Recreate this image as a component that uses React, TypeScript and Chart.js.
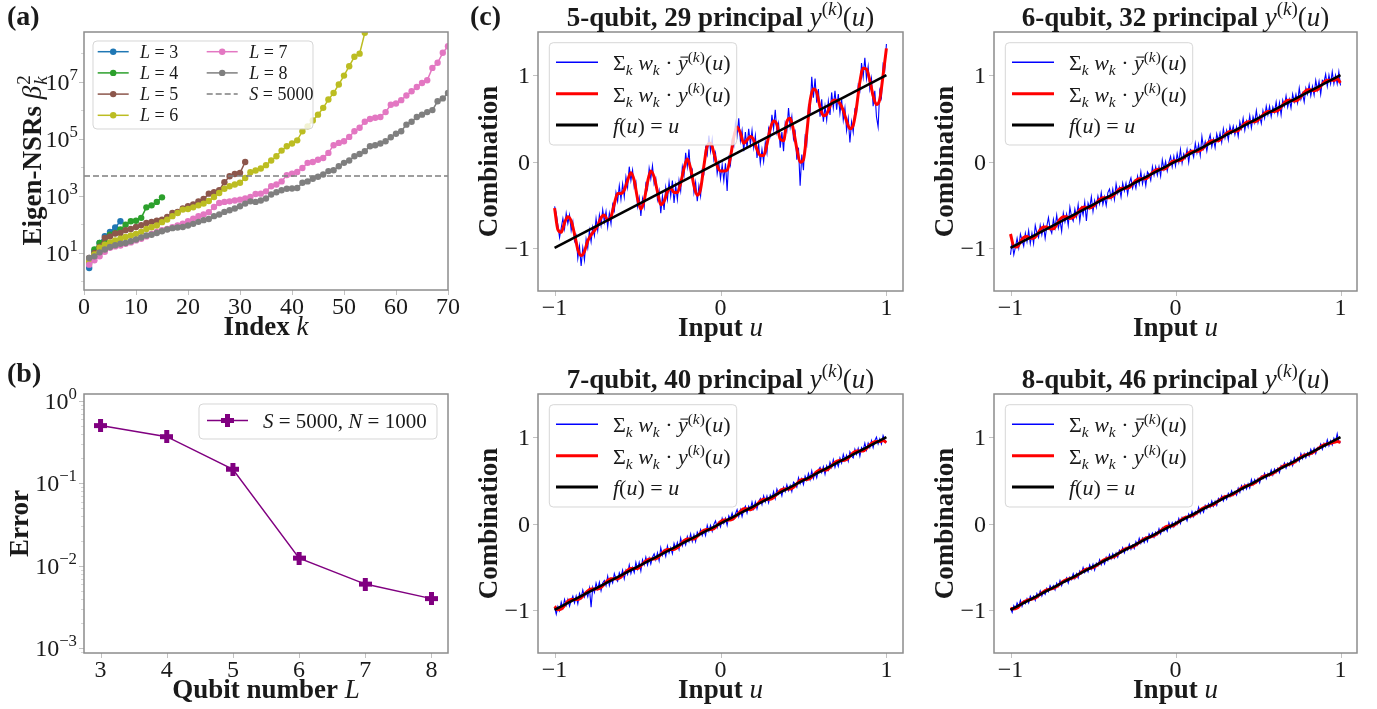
import React, { useEffect, useRef } from "react";
import { Chart, registerables } from "chart.js";
Chart.register(...registerables);

// ---------------- (a) eigen-NSR spectra: log10(beta_k^2) for k = 1..n ----------------
const nsrLogL3 = [0.47, 1.05, 1.35, 1.59, 1.74, 1.89, 2.11];
const nsrLogL4 = [0.65, 1.12, 1.35, 1.41, 1.64, 1.7, 1.82, 1.99, 2.11, 2.13, 2.23, 2.6, 2.67, 2.79, 2.95];
const nsrLogL5 = [0.82, 1.0, 1.21, 1.53, 1.58, 1.68, 1.7, 1.8, 1.84, 1.91, 1.97, 2.05, 2.09, 2.13, 2.17, 2.26, 2.4, 2.44, 2.56, 2.64, 2.7, 2.81, 2.89, 3.08, 3.13, 3.2, 3.48, 3.69, 3.77, 3.81, 4.19];
const nsrLogL6 = [0.71, 0.95, 1.18, 1.29, 1.37, 1.44, 1.5, 1.56, 1.61, 1.67, 1.74, 1.84, 1.9, 1.96, 2.08, 2.17, 2.29, 2.4, 2.52, 2.54, 2.6, 2.67, 2.73, 2.82, 2.96, 3.1, 3.25, 3.34, 3.4, 3.46, 3.63, 3.83, 3.89, 3.96, 4.08, 4.24, 4.39, 4.59, 4.74, 4.84, 4.95, 5.27, 5.44, 5.65, 5.85, 6.09, 6.38, 6.61, 6.91, 7.22, 7.55, 7.88, 7.99, 8.72, 9.4, 10.1];
const nsrLogL7 = [0.59, 0.74, 0.88, 1.04, 1.18, 1.23, 1.26, 1.32, 1.37, 1.44, 1.5, 1.58, 1.67, 1.74, 1.8, 1.84, 1.9, 1.96, 2.03, 2.11, 2.2, 2.29, 2.35, 2.43, 2.61, 2.75, 2.79, 2.81, 2.84, 2.87, 2.91, 2.96, 3.07, 3.08, 3.16, 3.34, 3.4, 3.51, 3.73, 3.78, 3.84, 3.98, 4.16, 4.19, 4.27, 4.33, 4.51, 4.78, 4.86, 4.92, 5.07, 5.27, 5.39, 5.6, 5.7, 5.74, 5.77, 5.94, 6.2, 6.24, 6.36, 6.52, 6.67, 6.82, 6.96, 7.06, 7.49, 7.67, 8.02, 8.25];
const nsrLogL8 = [0.82, 0.88, 1.02, 1.12, 1.21, 1.27, 1.32, 1.35, 1.41, 1.47, 1.54, 1.61, 1.64, 1.7, 1.76, 1.82, 1.87, 1.89, 1.91, 1.96, 2.02, 2.09, 2.15, 2.19, 2.29, 2.35, 2.44, 2.5, 2.56, 2.64, 2.73, 2.81, 2.79, 2.84, 2.91, 3.05, 3.13, 3.2, 3.25, 3.26, 3.28, 3.46, 3.51, 3.6, 3.67, 3.75, 3.87, 3.9, 4.04, 4.16, 4.24, 4.39, 4.47, 4.57, 4.74, 4.78, 4.84, 4.92, 5.06, 5.18, 5.27, 5.5, 5.6, 5.77, 5.85, 5.94, 6.01, 6.32, 6.42, 6.61];
const nsrSeriesL = ["3", "4", "5", "6", "7", "8"];
const shotsS = 5000;
const indexTicks = [0, 10, 20, 30, 40, 50, 60, 70];

// ---------------- (b) error vs qubit number ----------------
const qubitNumbers = [3, 4, 5, 6, 7, 8];
const errorValues = [0.5, 0.367, 0.148, 0.0124, 0.006, 0.004];

// ---------------- (c) combinations ----------------
const panelQubits = [5, 6, 7, 8];
const panelPrincipal = [29, 32, 40, 46];
const uDense = Array.from({ length: 201 }, (_, i) => -1 + i * 0.01);
const uCoarse = Array.from({ length: 101 }, (_, i) => -1 + i * 0.02);
const identityU = [-1, 1];

const blue5 = [
  -0.52, -0.6, -0.74, -0.88, -0.77, -0.66, -0.78, -0.6, -0.72, -0.62,
  -0.8, -0.7, -0.92, -0.86, -1.12, -0.98, -1.21, -1.0, -1.14, -0.9,
  -1.0, -0.8, -0.93, -0.76, -0.86, -0.66, -0.8, -0.62, -0.74, -0.56,
  -0.7, -0.58, -0.76, -0.6, -0.72, -0.5, -0.57, -0.36, -0.46, -0.28,
  -0.44, -0.26, -0.41, -0.18, -0.3, -0.06, -0.22, -0.1, -0.3, -0.24,
  -0.52, -0.42, -0.63, -0.43, -0.53, -0.26, -0.32, -0.08, -0.2, -0.05,
  -0.26, -0.2, -0.44, -0.34, -0.6, -0.4, -0.56, -0.3, -0.44, -0.24,
  -0.4, -0.22, -0.48, -0.28, -0.44, -0.22, -0.34, -0.06, -0.16, 0.1,
  -0.06, 0.14, -0.16, -0.1, -0.36, -0.24, -0.46, -0.28, -0.4, -0.1,
  -0.14, 0.16, 0.08, 0.3, 0.12, 0.26, 0.02, 0.1, -0.14, -0.02,
  -0.2, -0.04, -0.22, -0.02, -0.34, 0.04, -0.04, 0.24, 0.18, 0.44,
  0.3, 0.5, 0.24, 0.36, 0.12, 0.34, 0.16, 0.38, 0.2, 0.36,
  0.16, 0.3, 0.04, 0.2, -0.02, 0.14, 0.0, 0.22, 0.1, 0.38,
  0.3, 0.54, 0.38, 0.6, 0.34, 0.44, 0.16, 0.34, 0.12, 0.44,
  0.36, 0.62, 0.4, 0.52, 0.26, 0.34, 0.02, 0.16, -0.28, 0.08,
  -0.1, 0.28, 0.2, 0.64, 0.58, 0.98, 0.74, 0.96, 0.68, 0.84,
  0.52, 0.72, 0.46, 0.64, 0.48, 0.7, 0.54, 0.8, 0.62, 0.82,
  0.6, 0.78, 0.56, 0.72, 0.48, 0.62, 0.36, 0.5, 0.22, 0.46,
  0.34, 0.6, 0.56, 0.88, 0.82, 1.14, 0.98, 1.2, 0.96, 1.1,
  0.84, 0.96, 0.64, 0.82, 0.52, 0.4, 0.82, 0.74, 1.12, 1.06,
  1.36,
];
const red5 = [
  -0.54, -0.79, -0.82, -0.71, -0.64, -0.69, -0.84, -1.02, -1.09, -1.04,
  -0.92, -0.85, -0.8, -0.74, -0.65, -0.62, -0.68, -0.64, -0.49, -0.37,
  -0.37, -0.33, -0.22, -0.13, -0.22, -0.43, -0.55, -0.45, -0.24, -0.11,
  -0.18, -0.35, -0.5, -0.46, -0.35, -0.31, -0.36, -0.36, -0.25, -0.08,
  0.03, -0.08, -0.28, -0.39, -0.32, -0.05, 0.18, 0.21, 0.1, -0.05,
  -0.11, -0.11, -0.1, 0.05, 0.28, 0.4, 0.33, 0.21, 0.25, 0.29,
  0.25, 0.14, 0.07, 0.07, 0.2, 0.38, 0.47, 0.43, 0.26, 0.24,
  0.46, 0.5, 0.36, 0.15, -0.01, 0.02, 0.33, 0.7, 0.84, 0.8,
  0.63, 0.53, 0.55, 0.64, 0.71, 0.71, 0.67, 0.59, 0.47, 0.38,
  0.42, 0.63, 0.92, 1.08, 1.07, 0.94, 0.76, 0.66, 0.72, 1.0,
  1.31,
];
// residuals from f(u)=u for 6, 7, 8 qubits
const blue6Res = [
  -.08, .06, -.10, -.02, .07, -.05, .10, .02, -.06, .08,
  -.03, .09, -.07, .04, -.09, .11, .01, -.05, .08, -.04,
  .06, -.10, .03, .12, -.02, -.08, .07, -.04, .10, -.06,
  .02, -.12, .08, -.03, .05, -.09, .11, -.01, -.07, .06,
  -.04, .09, -.11, .03, -.06, .08, -.15, .05, -.02, .10,
  -.08, .04, -.05, .07, -.03, .09, -.06, .02, -.09, .05,
  .08, -.04, .06, -.07, .10, -.02, .04, -.08, .07, -.03,
  .05, -.09, .03, .08, -.05, .02, -.07, .06, -.04, .09,
  -.06, .03, -.10, .05, .01, -.07, .08, -.03, .06, -.05,
  .04, -.08, .10, -.02, .06, -.06, .03, .09, -.04, .07,
  -.05, .08, -.03, .11, -.06, .04, -.02, .07, -.09, .05,
  .02, -.06, .09, -.03, .06, -.08, .13, -.02, .05, -.07,
  .04, .10, -.05, .03, -.08, .07, -.02, .06, -.06, .09,
  -.03, .05, -.07, .08, -.01, .06, -.05, .03, -.09, .07,
  -.02, .09, -.06, .04, -.04, .08, -.07, .05, -.03, .10,
  -.05, .02, -.08, .06, -.04, .09, -.02, .07, -.06, .04,
  -.03, .08, -.07, .05, -.10, .06, -.02, .09, -.05, .03,
  -.08, .07, -.03, .05, -.06, .10, -.04, .02, -.09, .06,
  -.02, .08, -.06, .04, -.07, .09, -.03, .06, -.10, .05,
  .02, .10, -.05, .07, -.04, .09, -.06, .03, -.08, .05,
  -.12,
];
const red6Res = [
  .16, 0, -.03, .01, .04, .03, -.01, -.03, -.01, .03,
  .04, .02, -.02, -.04, -.01, .03, .04, .02, -.02, -.03,
  -.01, .02, .03, .01, -.02, -.02, 0, .02, .02, 0,
  -.02, -.02, 0, .02, .01, -.01, -.02, 0, .02, .02,
  0, -.02, -.01, .01, .02, .01, -.01, -.02, 0, .02,
  .01, -.01, -.02, 0, .02, .02, 0, -.02, -.02, 0,
  .02, .02, 0, -.02, -.01, .01, .02, .01, -.01, -.02,
  0, .02, .02, 0, -.02, -.02, 0, .02, .02, 0,
  -.02, -.03, -.01, .02, .03, .01, -.02, -.03, -.01, .02,
  .03, .01, -.02, -.03, -.01, .02, .02, 0, -.02, -.02,
  -.09,
];
const blue7Res = [
  .03, -.06, .02, -.04, .05, -.03, .06, -.02, .04, -.05,
  .01, .05, -.04, .03, -.07, .04, -.02, .06, -.03, .02,
  -.05, .04, -.19, .03, -.04, .06, -.02, .05, -.06, .02,
  .04, -.03, .07, -.05, .02, -.04, .06, -.01, -.05, .04,
  -.02, .05, -.06, .03, -.03, .07, -.04, .02, -.05, .06,
  -.03, .04, -.07, .05, -.02, .06, -.04, .03, -.05, .02,
  .05, -.03, .04, -.06, .08, -.02, .03, -.05, .06, -.03,
  .02, -.06, .05, -.02, .04, -.05, .07, -.03, .02, -.04,
  .05, -.02, .06, -.04, .03, -.06, .04, -.01, .05, -.03,
  .02, -.05, .06, -.02, .04, -.04, .03, .06, -.03, .02,
  -.04, .05, -.02, .03, -.06, .04, -.01, .05, -.03, .02,
  .06, -.03, .04, -.05, .02, .05, -.04, .03, -.02, .06,
  -.03, .04, -.05, .02, .05, -.03, .06, -.02, .04, -.05,
  .03, -.02, .05, -.04, .06, -.01, .03, -.05, .04, -.02,
  .05, -.03, .02, -.06, .04, .01, -.04, .06, -.02, .03,
  -.05, .04, -.02, .05, -.03, .06, -.04, .02, -.05, .03,
  .05, -.02, .04, -.06, .03, -.03, .05, -.02, .06, -.04,
  .02, -.05, .04, -.03, .06, -.02, .03, -.05, .05, -.01,
  -.04, .05, -.02, .04, -.06, .03, -.01, .06, -.03, .04,
  -.02, .05, -.04, .03, .06, -.03, .02, -.05, .04, -.02,
  -.06,
];
const red7Res = [
  .04, -.02, -.03, -.01, .02, .02, 0, -.02, -.02, 0,
  .02, .02, 0, -.02, -.02, 0, .02, .02, 0, -.02,
  -.02, 0, .02, .02, 0, -.02, -.01, .01, .02, .01,
  -.01, -.02, 0, .02, .02, 0, -.02, -.02, 0, .02,
  .02, 0, -.02, -.01, .01, .02, .01, -.01, -.02, 0,
  .02, .02, 0, -.02, -.02, 0, .02, .03, .01, -.02,
  -.02, 0, .02, .02, 0, -.02, -.02, 0, .02, .02,
  0, -.02, -.02, 0, .02, .01, -.01, -.02, 0, .02,
  .02, 0, -.02, -.01, .01, .02, .01, -.01, -.02, 0,
  .02, .02, 0, -.02, -.01, .01, .02, .01, -.01, -.02,
  -.06,
];
const blue8Res = [
  .02, -.04, .03, -.02, .04, -.01, .05, -.03, .02, -.02,
  .03, -.03, .04, -.01, .02, -.04, .03, -.02, .04, -.03,
  .01, -.03, .03, -.02, .04, -.01, .02, -.04, .03, -.02,
  .04, -.03, .02, -.01, .03, -.04, .02, -.02, .04, -.03,
  .02, -.04, .03, -.01, .05, -.02, .02, -.03, .04, -.02,
  .03, -.05, .02, -.02, .04, -.03, .01, -.04, .03, -.02,
  .04, -.02, .03, -.03, .02, -.04, .03, -.01, .04, -.03,
  .02, -.02, .04, -.03, .01, -.04, .03, -.02, .05, -.02,
  .03, -.03, .02, -.04, .04, -.01, .03, -.03, .02, -.02,
  .04, -.03, .03, -.02, .01, -.04, .05, -.02, .03, -.03,
  .02, -.02, .04, -.03, .03, -.01, .02, -.04, .03, -.02,
  .04, -.03, .02, -.02, .05, -.03, .01, -.04, .03, -.02,
  .03, -.02, .04, -.03, .02, -.04, .03, -.01, .04, -.03,
  .02, -.03, .03, -.02, .04, -.02, .01, -.04, .03, -.03,
  .04, -.02, .03, -.03, .02, -.04, .05, -.02, .03, -.02,
  .02, -.04, .03, -.01, .04, -.03, .02, -.02, .04, -.03,
  .03, -.02, .02, -.04, .03, -.01, .04, -.03, .02, -.02,
  .03, -.04, .04, -.02, .02, -.03, .05, -.02, .03, -.03,
  .02, -.03, .04, -.02, .03, -.04, .02, -.01, .04, -.03,
  .03, -.02, .05, -.03, .02, -.04, .03, -.02, .06, -.05,
  -.06,
];
const red8Res = [
  .02, -.01, -.02, 0, .01, .01, 0, -.01, -.01, 0,
  .01, .01, 0, -.01, -.01, 0, .01, .01, 0, -.01,
  -.01, 0, .01, .01, 0, -.01, -.01, 0, .01, .01,
  0, -.01, -.01, 0, .01, .01, 0, -.01, -.01, 0,
  .01, .01, 0, -.01, -.01, 0, .01, .02, .01, -.01,
  -.01, 0, .01, .01, 0, -.01, -.01, 0, .01, .01,
  0, -.01, -.01, 0, .01, .01, 0, -.01, -.01, 0,
  .01, .01, 0, -.01, -.01, 0, .01, .01, 0, -.01,
  -.01, 0, .01, .01, 0, -.01, -.01, 0, .01, .01,
  0, -.01, -.01, 0, .01, .01, 0, -.01, -.02, -.03,
  -.06,
];

// ---------------- styling ----------------
const SERIF = '"Liberation Serif", "Times New Roman", serif';
const TXT = "#1a1a1a";
const SPINE = "#8c8c8c";
const TICK = "#c2c2c2";
const TAB = ["#1f77b4", "#2ca02c", "#8c564b", "#bcbd22", "#e377c2", "#7f7f7f"];
const PURPLE = "#800080";

type Seg = { t: string; b?: boolean; i?: boolean; s?: number; dy?: number; dx?: number; na?: boolean; bar?: boolean };

function fontOf(sg: Seg, size: number) {
  return `${sg.i ? "italic " : ""}${sg.b ? "bold " : ""}${(size * (sg.s ?? 1)).toFixed(1)}px ${SERIF}`;
}
function richWidth(ctx: CanvasRenderingContext2D, segs: Seg[], size: number) {
  let w = 0;
  for (const sg of segs) {
    ctx.font = fontOf(sg, size);
    w += (sg.dx ?? 0) * size + (sg.na ? 0 : ctx.measureText(sg.t).width);
  }
  return w;
}
function drawRich(ctx: CanvasRenderingContext2D, segs: Seg[], x: number, y: number, size: number, align: string, color = TXT) {
  const w = richWidth(ctx, segs, size);
  let cx = align === "center" ? x - w / 2 : align === "right" ? x - w : x;
  ctx.fillStyle = color;
  ctx.textBaseline = "alphabetic";
  ctx.textAlign = "left";
  for (const sg of segs) {
    ctx.font = fontOf(sg, size);
    cx += (sg.dx ?? 0) * size;
    const yy = y + (sg.dy ?? 0) * size;
    ctx.fillText(sg.t, cx, yy);
    const m = ctx.measureText(sg.t).width;
    if (sg.bar) {
      ctx.strokeStyle = color;
      ctx.lineWidth = Math.max(1, size * 0.05);
      ctx.beginPath();
      ctx.moveTo(cx + m * 0.25, yy - size * 0.6);
      ctx.lineTo(cx + m * 1.05, yy - size * 0.6);
      ctx.stroke();
    }
    if (!sg.na) cx += m;
  }
}

const SUP = -0.4;
const supK: Seg[] = [
  { t: "(", s: 0.7, dy: SUP },
  { t: "k", i: true, s: 0.7, dy: SUP },
  { t: ")", s: 0.7, dy: SUP },
];
const ofU: Seg[] = [{ t: "(" }, { t: "u", i: true }, { t: ")" }];
const sumW: Seg[] = [
  { t: "Σ" },
  { t: "k", i: true, s: 0.7, dy: 0.22 },
  { t: " " },
  { t: "w", i: true },
  { t: "k", i: true, s: 0.7, dy: 0.22 },
  { t: " · " },
];
const LEG_BLUE: Seg[] = [...sumW, { t: "y", i: true, bar: true }, ...supK, ...ofU];
const LEG_RED: Seg[] = [...sumW, { t: "y", i: true }, ...supK, ...ofU];
const LEG_BLACK: Seg[] = [{ t: "f", i: true }, ...ofU, { t: " = " }, { t: "u", i: true }];

function tenPow(e: number): Seg[] {
  return [{ t: "10" }, { t: e < 0 ? "−" + -e : String(e), s: 0.7, dy: -0.42 }];
}
function numSeg(v: number): Seg[] {
  return [{ t: v < 0 ? "−" + -v : String(v) }];
}

function roundBox(ctx: CanvasRenderingContext2D, x: number, y: number, w: number, h: number) {
  const r = 4;
  ctx.beginPath();
  ctx.moveTo(x + r, y);
  ctx.lineTo(x + w - r, y);
  ctx.quadraticCurveTo(x + w, y, x + w, y + r);
  ctx.lineTo(x + w, y + h - r);
  ctx.quadraticCurveTo(x + w, y + h, x + w - r, y + h);
  ctx.lineTo(x + r, y + h);
  ctx.quadraticCurveTo(x, y + h, x, y + h - r);
  ctx.lineTo(x, y + r);
  ctx.quadraticCurveTo(x, y, x + r, y);
  ctx.closePath();
  ctx.fillStyle = "rgba(255,255,255,0.8)";
  ctx.fill();
  ctx.strokeStyle = "rgba(204,204,204,0.8)";
  ctx.lineWidth = 1;
  ctx.stroke();
}
function seg(ctx: CanvasRenderingContext2D, x1: number, y1: number, x2: number, y2: number, color: string, w: number, dash: number[] = []) {
  ctx.save();
  ctx.strokeStyle = color;
  ctx.lineWidth = w;
  ctx.setLineDash(dash);
  ctx.beginPath();
  ctx.moveTo(x1, y1);
  ctx.lineTo(x2, y2);
  ctx.stroke();
  ctx.restore();
}

function plusImage(size: number, color: string) {
  const c = document.createElement("canvas");
  c.width = size;
  c.height = size;
  const g = c.getContext("2d")!;
  const t = Math.round(size * 0.4);
  const o = (size - t) / 2;
  g.fillStyle = color;
  g.fillRect(o, 0, t, size);
  g.fillRect(0, o, size, t);
  return c;
}

type AxesDecor = {
  xt: [number, Seg[]][];
  yt: [number, Seg[]][];
  yMinor?: number[];
  title?: Seg[];
  xl: Seg[];
  yl: Seg[];
  ylx: number;
  yLabelGap?: number;
  panel?: { t: string; x: number; y: number };
};

function decorate(ctx: CanvasRenderingContext2D, chart: any, o: AxesDecor) {
  const ca = chart.chartArea;
  const xs = chart.scales.x;
  const ys = chart.scales.y;
  ctx.save();
  // tick marks
  for (const [v] of o.xt) {
    const px = Math.round(xs.getPixelForValue(v)) + 0.5;
    seg(ctx, px, ca.bottom, px, ca.bottom + 5, TICK, 1);
  }
  for (const [v] of o.yt) {
    const py = Math.round(ys.getPixelForValue(v)) + 0.5;
    seg(ctx, ca.left - 5, py, ca.left, py, TICK, 1);
  }
  for (const v of o.yMinor ?? []) {
    const py = Math.round(ys.getPixelForValue(v)) + 0.5;
    if (py > ca.top && py < ca.bottom) seg(ctx, ca.left - 3, py, ca.left, py, "#d6d6d6", 1);
  }
  // frame
  ctx.strokeStyle = SPINE;
  ctx.lineWidth = 1.5;
  ctx.strokeRect(ca.left, ca.top, ca.right - ca.left, ca.bottom - ca.top);
  // tick labels
  for (const [v, s] of o.xt) drawRich(ctx, s, xs.getPixelForValue(v), ca.bottom + 24, 24, "center");
  for (const [v, s] of o.yt) drawRich(ctx, s, ca.left - (o.yLabelGap ?? 8), ys.getPixelForValue(v) + 8, 24, "right");
  // axis labels
  drawRich(ctx, o.xl, (ca.left + ca.right) / 2, ca.bottom + 45, 27, "center");
  ctx.save();
  ctx.translate(ca.left - o.ylx, (ca.top + ca.bottom) / 2);
  ctx.rotate(-Math.PI / 2);
  drawRich(ctx, o.yl, 0, 0, 27, "center");
  ctx.restore();
  if (o.title) drawRich(ctx, o.title, (ca.left + ca.right) / 2, ca.top - 6, 27, "center");
  if (o.panel) drawRich(ctx, [{ t: o.panel.t, b: true }], o.panel.x, o.panel.y, 28, "left");
  ctx.restore();
}

type Spec = {
  ox: number;
  oy: number;
  W: number;
  H: number;
  pad: { l: number; t: number; r: number; b: number };
  x: any;
  y: any;
  datasets: any[];
  draw: (ctx: CanvasRenderingContext2D, chart: any) => void;
};

function makeConfig(p: Spec): any {
  const n = p.datasets.length;
  return {
    type: "line",
    data: { datasets: p.datasets.map((d, i) => ({ order: n - i, fill: false, ...d })) },
    options: {
      responsive: false,
      animation: false,
      events: [],
      layout: { padding: { left: p.pad.l, top: p.pad.t, right: p.pad.r, bottom: p.pad.b }, autoPadding: false },
      plugins: { legend: { display: false }, tooltip: { enabled: false }, title: { display: false } },
      scales: { x: { display: false, ...p.x }, y: { display: false, ...p.y } },
    },
    plugins: [{ id: "deco", afterDraw: (chart: any) => p.draw(chart.ctx, chart) }],
  };
}

// -------- panel (a)
function specA(): Spec {
  const series = [nsrLogL3, nsrLogL4, nsrLogL5, nsrLogL6, nsrLogL7, nsrLogL8];
  const datasets: any[] = series.map((arr, si) => ({
    data: arr.map((e, i) => ({ x: i + 1, y: Math.pow(10, e) })),
    borderColor: TAB[si],
    backgroundColor: TAB[si],
    borderWidth: 1.5,
    pointRadius: 3.2,
    pointBackgroundColor: TAB[si],
    pointBorderWidth: 0,
  }));
  datasets.push({
    data: [{ x: indexTicks[0], y: shotsS }, { x: indexTicks[indexTicks.length - 1], y: shotsS }],
    borderColor: "#7f7f7f",
    borderWidth: 1.5,
    borderDash: [6, 3],
    pointRadius: 0,
  });
  return {
    ox: 0, oy: 0, W: 460, H: 345,
    pad: { l: 84, t: 32, r: 12, b: 55 },
    x: { type: "linear", min: 0, max: 70 },
    y: { type: "logarithmic", min: Math.pow(10, -0.3), max: Math.pow(10, 8.75) },
    datasets,
    draw: (ctx, chart) => {
      const ca = chart.chartArea;
      // legend
      roundBox(ctx, ca.left + 9, ca.top + 9, 220, 88);
      const entries: { c: string; segs: Seg[]; dash?: boolean }[] = nsrSeriesL.map((l, i) => ({
        c: TAB[i],
        segs: [{ t: "L", i: true }, { t: " = " + l }],
      }));
      entries.push({ c: "#7f7f7f", segs: [{ t: "S", i: true }, { t: " = " + shotsS }], dash: true });
      entries.forEach((en, i) => {
        const col = i < 4 ? 0 : 1;
        const row = i < 4 ? i : i - 4;
        const cy = ca.top + 19.7 + row * 21.2;
        const lx = ca.left + (col === 0 ? 13.7 : 122.7);
        if (en.dash) {
          seg(ctx, lx, cy, lx + 31, cy, en.c, 1.5, [6, 3]);
        } else {
          seg(ctx, lx, cy, lx + 31, cy, en.c, 1.5);
          ctx.fillStyle = en.c;
          ctx.beginPath();
          ctx.arc(lx + 15.5, cy, 3.2, 0, Math.PI * 2);
          ctx.fill();
        }
        drawRich(ctx, en.segs, ca.left + (col === 0 ? 56 : 165.3), cy + 6, 18, "left");
      });
      decorate(ctx, chart, {
        xt: indexTicks.map((v) => [v, numSeg(v)] as [number, Seg[]]),
        yt: [1, 3, 5, 7].map((e) => [Math.pow(10, e), tenPow(e)] as [number, Seg[]]),
        yMinor: [0, 2, 4, 6, 8].map((e) => Math.pow(10, e)),
        xl: [{ t: "Index ", b: true }, { t: "k", i: true }],
        yl: [
          { t: "Eigen-NSRs ", b: true },
          { t: "β", i: true },
          { t: "2", s: 0.7, dy: -0.42, na: true, dx: 0.04 },
          { t: "k", i: true, s: 0.7, dy: 0.22 },
        ],
        ylx: 43,
        yLabelGap: 6,
        panel: { t: "(a)", x: 7, y: 25 },
      });
    },
  };
}

// -------- panel (b)
function specB(): Spec {
  const img = plusImage(13, PURPLE);
  return {
    ox: 0, oy: 345, W: 460, H: 364,
    pad: { l: 84, t: 49, r: 12, b: 56 },
    x: { type: "linear", min: 2.75, max: 8.25 },
    y: { type: "logarithmic", min: Math.pow(10, -3.057), max: Math.pow(10, 0.082) },
    datasets: [
      {
        data: qubitNumbers.map((q, i) => ({ x: q, y: errorValues[i] })),
        borderColor: PURPLE,
        borderWidth: 1.5,
        pointStyle: img,
        pointRadius: 6,
      },
    ],
    draw: (ctx, chart) => {
      const ca = chart.chartArea;
      roundBox(ctx, ca.left + 115, ca.top + 10, 238, 35);
      const cy = ca.top + 26.5;
      seg(ctx, ca.left + 123, cy, ca.left + 164, cy, PURPLE, 1.5);
      ctx.drawImage(img, ca.left + 143.5 - 6.5, cy - 6.5);
      drawRich(ctx, [{ t: "S", i: true }, { t: " = " + shotsS + ", " }, { t: "N", i: true }, { t: " = 1000" }], ca.left + 179, cy + 7, 21, "left");
      const minors: number[] = [];
      for (const e of [-4, -3, -2, -1, 0]) for (let m = 2; m <= 9; m++) minors.push(m * Math.pow(10, e));
      decorate(ctx, chart, {
        xt: qubitNumbers.map((v) => [v, numSeg(v)] as [number, Seg[]]),
        yt: [0, -1, -2, -3].map((e) => [Math.pow(10, e), tenPow(e)] as [number, Seg[]]),
        yMinor: minors,
        xl: [{ t: "Qubit number ", b: true }, { t: "L", i: true }],
        yl: [{ t: "Error", b: true }],
        ylx: 56,
        yLabelGap: 7,
        panel: { t: "(b)", x: 7, y: 37 },
      });
    },
  };
}

// -------- panels (c)
function specC(k: number, ox: number, oy: number, W: number, H: number, pad: any, blue: number[], red: number[], label?: boolean): Spec {
  return {
    ox, oy, W, H, pad,
    x: { type: "linear", min: -1.1, max: 1.1 },
    y: { type: "linear", min: -1.5, max: 1.5 },
    datasets: [
      { data: uDense.map((u, i) => ({ x: u, y: blue[i] })), borderColor: "#0000ff", borderWidth: 1.1, pointRadius: 0 },
      { data: uCoarse.map((u, i) => ({ x: u, y: red[i] })), borderColor: "#ff0000", borderWidth: 3, pointRadius: 0, cubicInterpolationMode: "monotone" },
      { data: identityU.map((u) => ({ x: u, y: u })), borderColor: "#000000", borderWidth: 2.6, pointRadius: 0 },
    ],
    draw: (ctx, chart) => {
      const ca = chart.chartArea;
      roundBox(ctx, ca.left + 11.3, ca.top + 10.7, 187.4, 102.3);
      const rows: [string, number, Seg[]][] = [
        ["#0000ff", 1.5, LEG_BLUE],
        ["#ff0000", 3, LEG_RED],
        ["#000000", 3, LEG_BLACK],
      ];
      rows.forEach(([c, w, s], i) => {
        const cy = ca.top + 30.3 + i * 31.4;
        seg(ctx, ca.left + 18, cy, ca.left + 60, cy, c, w);
        drawRich(ctx, s, ca.left + 75, cy + 8, 22, "left");
      });
      decorate(ctx, chart, {
        xt: [-1, 0, 1].map((v) => [v, numSeg(v)] as [number, Seg[]]),
        yt: [-1, 0, 1].map((v) => [v, numSeg(v)] as [number, Seg[]]),
        title: [{ t: `${panelQubits[k]}-qubit, ${panelPrincipal[k]} principal `, b: true }, { t: "y", i: true }, ...supK, ...ofU],
        xl: [{ t: "Input ", b: true }, { t: "u", i: true }],
        yl: [{ t: "Combination", b: true }],
        ylx: 41,
        panel: label ? { t: "(c)", x: 10, y: 25 } : undefined,
      });
    },
  };
}

function Panel({ make }: { make: () => Spec }) {
  const ref = useRef<HTMLCanvasElement>(null);
  const specRef = useRef<Spec | null>(null);
  if (!specRef.current) specRef.current = make();
  const s = specRef.current;
  useEffect(() => {
    const chart = new Chart(ref.current as HTMLCanvasElement, makeConfig(s));
    return () => chart.destroy();
  }, []);
  return (
    <canvas
      ref={ref}
      width={s.W}
      height={s.H}
      style={{ position: "absolute", left: s.ox, top: s.oy, width: s.W, height: s.H }}
    />
  );
}

export default function App() {
  const makers: (() => Spec)[] = [
    specA,
    specB,
    () => specC(0, 460, 0, 455, 345, { l: 78, t: 32, r: 12, b: 54 }, blue5, red5, true),
    () =>
      specC(1, 915, 0, 462, 345, { l: 79, t: 32, r: 20, b: 54 },
        uDense.map((u, i) => u + blue6Res[i]), uCoarse.map((u, i) => u + red6Res[i])),
    () =>
      specC(2, 460, 345, 455, 364, { l: 78, t: 49, r: 12, b: 56 },
        uDense.map((u, i) => u + blue7Res[i]), uCoarse.map((u, i) => u + red7Res[i])),
    () =>
      specC(3, 915, 345, 462, 364, { l: 79, t: 49, r: 20, b: 56 },
        uDense.map((u, i) => u + blue8Res[i]), uCoarse.map((u, i) => u + red8Res[i])),
  ];
  return (
    <div style={{ position: "absolute", left: 0, top: 0, width: 1377, height: 709, background: "#fff" }}>
      {makers.map((m, i) => (
        <Panel key={i} make={m} />
      ))}
    </div>
  );
}
